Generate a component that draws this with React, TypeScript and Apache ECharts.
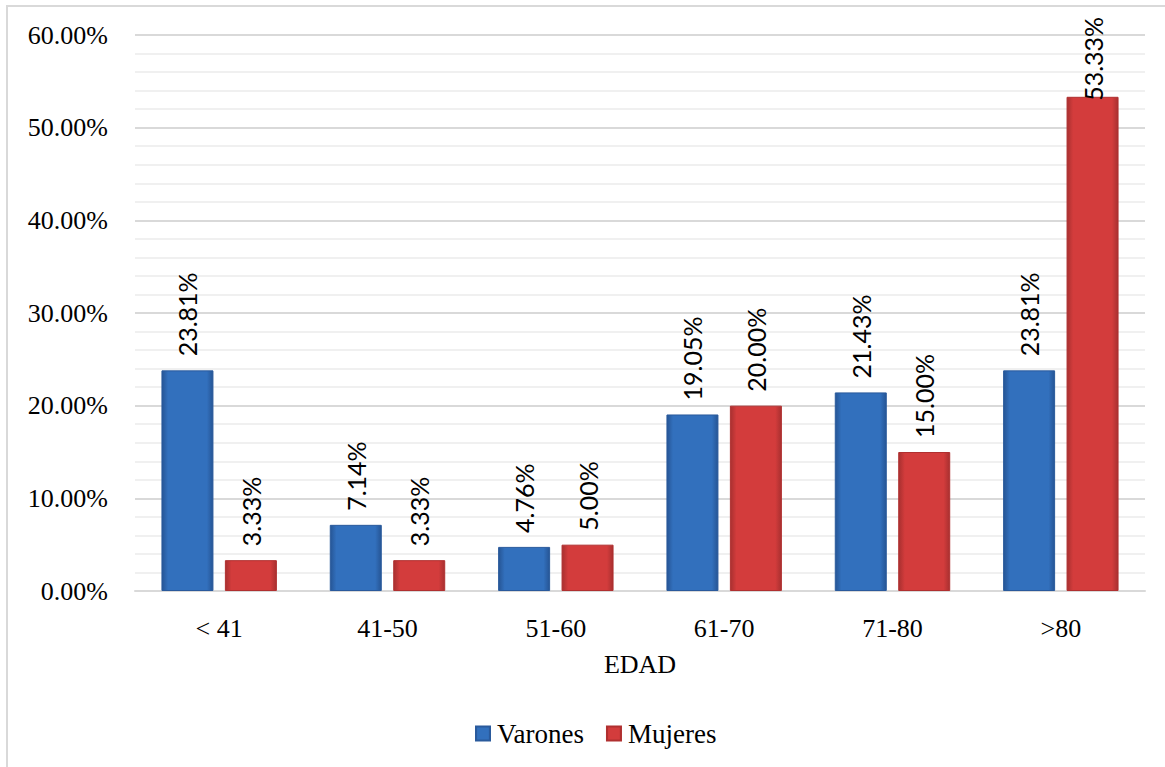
import React, { useEffect, useRef } from "react";
import * as echarts from "echarts";

const categories = ["< 41", "41-50", "51-60", "61-70", "71-80", ">80"];
const varones = [23.81, 7.14, 4.76, 19.05, 21.43, 23.81];
const mujeres = [3.33, 3.33, 5.0, 20.0, 15.0, 53.33];
const seriesNames = ["Varones", "Mujeres"];
const axisTitle = "EDAD";

const grad = (edge: string, mid: string) =>
  new echarts.graphic.LinearGradient(0, 0, 1, 0, [
    { offset: 0, color: edge },
    { offset: 0.12, color: mid },
    { offset: 0.88, color: mid },
    { offset: 1, color: edge },
  ]);

const serif = "Liberation Serif";

export default function App() {
  const ref = useRef<HTMLDivElement>(null);
  useEffect(() => {
    if (!ref.current) return;
    const chart = echarts.init(ref.current, null, { renderer: "svg" });
    const labelCfg = {
      show: true,
      position: "top" as const,
      rotate: 90,
      align: "left" as const,
      verticalAlign: "middle" as const,
      distance: 14,
      fontFamily: "Lato",
      fontSize: 25,
      color: "#000",
      formatter: (p: any) => p.value.toFixed(2) + "%",
    };
    const maxIdx = mujeres.indexOf(Math.max(...mujeres));
    const mujeresData = mujeres.map((v, i) =>
      i === maxIdx ? { value: v, label: { distance: -4 } } : v
    );
    chart.setOption({
      animation: false,
      backgroundColor: "transparent",
      grid: { left: 135, right: 20, top: 35, bottom: 176 },
      legend: {
        bottom: 15,
        left: 470,
        itemWidth: 14,
        itemHeight: 14,
        itemGap: 22,
        icon: "rect",
        textStyle: { fontFamily: serif, fontSize: 27, color: "#000", padding: [0, 0, 0, 2] },
        data: seriesNames,
      },
      xAxis: {
        type: "category",
        data: categories,
        name: axisTitle,
        nameLocation: "middle",
        nameGap: 60,
        nameTextStyle: { fontFamily: serif, fontSize: 26, color: "#000" },
        axisLine: { show: true, lineStyle: { color: "#d9d9d9", width: 2 } },
        axisTick: { show: false },
        axisLabel: { fontFamily: serif, fontSize: 26, color: "#000", margin: 24 },
      },
      yAxis: {
        type: "value",
        min: 0,
        max: 60,
        interval: 10,
        axisLine: { show: false },
        axisTick: { show: false },
        axisLabel: {
          fontFamily: serif,
          fontSize: 26,
          color: "#000",
          margin: 27,
          formatter: (v: number) => v.toFixed(2) + "%",
        },
        splitLine: { lineStyle: { color: "#d9d9d9", width: 2 } },
        minorTick: { show: false, splitNumber: 5 },
        minorSplitLine: { show: true, lineStyle: { color: "#f0f0f0", width: 2 } },
      },
      series: [
        {
          name: seriesNames[0],
          type: "bar",
          data: varones,
          barWidth: 52,
          barGap: "22%",
          itemStyle: { color: grad("#265595", "#3270bd"), borderColor: "#2a5a9c", borderWidth: 1 },
          label: labelCfg,
        },
        {
          name: seriesNames[1],
          type: "bar",
          data: mujeresData,
          barWidth: 52,
          itemStyle: { color: grad("#a83030", "#d33c3c"), borderColor: "#b03030", borderWidth: 1 },
          label: labelCfg,
        },
      ],
    });
    return () => chart.dispose();
  }, []);
  return (
    <div
      style={{
        position: "fixed",
        left: 0,
        top: 0,
        width: 1165,
        height: 767,
        background: "#fff",
      }}
    >
      <div
        style={{
          position: "absolute",
          left: 6,
          top: 5,
          width: 1165,
          height: 767,
          borderLeft: "2px solid #d9d9d9",
          borderTop: "2px solid #d9d9d9",
          boxSizing: "border-box",
        }}
      />
      <div ref={ref} style={{ position: "absolute", left: 0, top: 0, width: 1165, height: 767 }} />
    </div>
  );
}
